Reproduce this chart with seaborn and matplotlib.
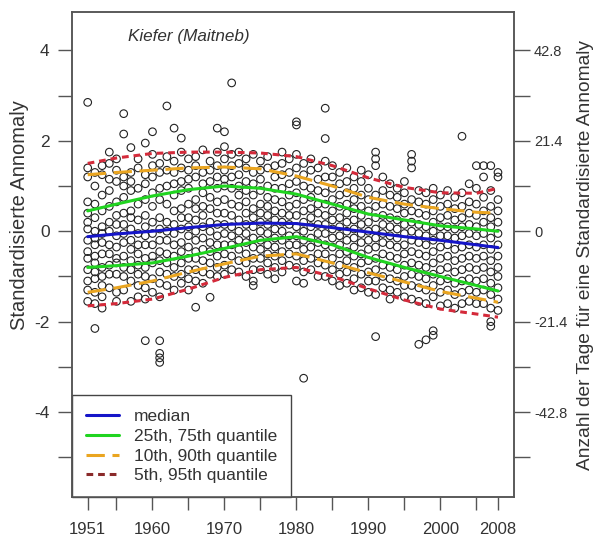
import numpy as np
import pandas as pd
import matplotlib
matplotlib.use("Agg")
import matplotlib.pyplot as plt
import seaborn as sns
from matplotlib.lines import Line2D

sns.set_style("white")
plt.rcParams['font.family'] = ['Liberation Sans', 'DejaVu Sans']

# ---------------- data ----------------
points = {
    1951: [2.85, 1.4, 1.2, 0.65, 0.4, 0.2, 0.05, -0.2, -0.45, -0.6, -0.85, -1.1, -1.3, -1.55],
    1952: [1.3, 1.0, 0.6, 0.3, 0.0, -0.15, -0.3, -0.55, -0.7, -0.9, -1.05, -1.35, -1.6, -2.15],
    1953: [1.45, 1.25, 0.8, 0.45, 0.1, -0.05, -0.25, -0.5, -0.8, -1.0, -1.2, -1.45, -1.7],
    1954: [1.75, 1.5, 1.15, 0.9, 0.55, 0.2, 0.0, -0.3, -0.5, -0.75, -0.95, -1.25],
    1955: [1.6, 1.35, 1.1, 0.65, 0.35, 0.15, -0.1, -0.35, -0.6, -0.7, -0.95, -1.35, -1.55],
    1956: [2.6, 2.15, 1.2, 1.0, 0.75, 0.4, 0.15, -0.05, -0.25, -0.55, -0.8, -1.0, -1.3],
    1957: [1.85, 1.3, 1.1, 0.9, 0.45, 0.3, 0.05, -0.2, -0.4, -0.65, -0.85, -1.1, -1.55],
    1958: [1.6, 1.4, 0.95, 0.6, 0.25, -0.05, -0.3, -0.5, -0.75, -0.95, -1.2, -1.45],
    1959: [1.95, 1.25, 1.05, 0.7, 0.35, 0.1, -0.1, -0.3, -0.6, -0.8, -1.0, -1.25, -1.5, -2.42],
    1960: [2.2, 1.7, 1.45, 1.2, 0.85, 0.55, 0.2, -0.05, -0.3, -0.55, -0.7, -1.05, -1.35],
    1961: [1.5, 1.3, 0.95, 0.7, 0.3, 0.05, -0.2, -0.45, -0.65, -0.9, -1.15, -1.45, -2.42, -2.7, -2.8, -2.9],
    1962: [2.77, 1.65, 1.35, 1.0, 0.6, 0.2, 0.0, -0.2, -0.5, -0.7, -0.95, -1.2],
    1963: [2.28, 1.55, 1.3, 1.05, 0.8, 0.45, 0.15, -0.05, -0.3, -0.55, -0.8, -1.0, -1.3],
    1964: [2.06, 1.75, 1.4, 1.1, 0.9, 0.5, 0.3, 0.05, -0.25, -0.45, -0.7, -0.95, -1.15],
    1965: [1.6, 1.35, 1.15, 0.95, 0.6, 0.3, 0.1, -0.1, -0.35, -0.6, -0.85, -1.05, -1.3],
    1966: [1.65, 1.45, 1.2, 0.7, 0.5, 0.25, 0.0, -0.2, -0.45, -0.6, -0.85, -1.1, -1.68],
    1967: [1.8, 1.3, 1.05, 0.85, 0.55, 0.35, 0.1, -0.15, -0.4, -0.65, -0.9, -1.15],
    1968: [1.55, 1.35, 1.1, 0.75, 0.5, 0.2, 0.0, -0.25, -0.45, -0.7, -0.95, -1.46],
    1969: [2.28, 1.75, 1.45, 1.2, 0.95, 0.65, 0.4, 0.15, -0.1, -0.3, -0.55, -0.8, -1.0],
    1970: [2.2, 1.87, 1.6, 1.35, 1.15, 1.0, 0.7, 0.4, 0.15, -0.05, -0.3, -0.5, -0.75, -0.95],
    1971: [3.28, 1.7, 1.45, 1.2, 0.95, 0.6, 0.35, 0.1, -0.1, -0.3, -0.55, -0.85],
    1972: [1.75, 1.5, 1.25, 1.0, 0.8, 0.55, 0.25, 0.0, -0.2, -0.4, -0.65, -0.9],
    1973: [1.6, 1.4, 1.1, 0.9, 0.65, 0.4, 0.15, -0.05, -0.25, -0.5, -0.7, -1.0],
    1974: [1.7, 1.3, 1.05, 0.8, 0.5, 0.3, 0.1, -0.15, -0.35, -0.6, -0.85, -1.1, -1.2],
    1975: [1.55, 1.35, 1.15, 0.9, 0.6, 0.4, 0.2, 0.0, -0.2, -0.4, -0.6, -0.85],
    1976: [1.65, 1.4, 1.0, 0.75, 0.55, 0.35, 0.15, -0.05, -0.3, -0.5, -0.7, -0.95],
    1977: [1.45, 1.2, 0.95, 0.7, 0.45, 0.25, 0.05, -0.15, -0.35, -0.55, -0.8, -1.05],
    1978: [1.75, 1.5, 1.25, 0.95, 0.65, 0.4, 0.2, 0.0, -0.2, -0.45, -0.65, -0.9],
    1979: [1.6, 1.3, 1.05, 0.8, 0.55, 0.35, 0.15, -0.1, -0.3, -0.5, -0.75],
    1980: [2.42, 2.35, 1.7, 1.4, 1.1, 0.85, 0.6, 0.35, 0.1, -0.1, -0.3, -0.55, -0.8, -1.1],
    1981: [1.5, 1.25, 1.0, 0.7, 0.45, 0.2, 0.0, -0.2, -0.4, -0.65, -0.9, -1.15, -3.25],
    1982: [1.6, 1.35, 0.95, 0.75, 0.5, 0.3, 0.1, -0.15, -0.35, -0.6, -0.85],
    1983: [1.4, 1.15, 0.9, 0.6, 0.4, 0.15, -0.05, -0.25, -0.5, -0.7, -1.0],
    1984: [2.72, 2.05, 1.55, 1.2, 0.85, 0.6, 0.35, 0.15, -0.05, -0.3, -0.5, -0.75, -1.0],
    1985: [1.45, 1.2, 0.95, 0.7, 0.45, 0.25, 0.05, -0.15, -0.35, -0.6, -0.85, -1.1],
    1986: [1.3, 1.05, 0.8, 0.55, 0.3, 0.1, -0.1, -0.3, -0.5, -0.75, -0.95, -1.2],
    1987: [1.4, 1.1, 0.85, 0.6, 0.4, 0.2, 0.0, -0.2, -0.45, -0.65, -0.9, -1.15],
    1988: [1.2, 0.95, 0.7, 0.5, 0.25, 0.05, -0.15, -0.35, -0.55, -0.8, -1.05, -1.3],
    1989: [1.35, 1.1, 0.8, 0.55, 0.35, 0.15, -0.05, -0.25, -0.5, -0.7, -0.95, -1.25],
    1990: [1.25, 0.95, 0.7, 0.45, 0.2, 0.0, -0.2, -0.4, -0.65, -0.9, -1.1, -1.35],
    1991: [1.75, 1.6, 1.45, 0.8, 0.55, 0.3, 0.05, -0.15, -0.35, -0.6, -0.85, -1.1, -1.4, -2.33],
    1992: [1.2, 0.9, 0.6, 0.35, 0.15, -0.05, -0.25, -0.5, -0.75, -1.0, -1.25],
    1993: [1.05, 0.8, 0.55, 0.3, 0.1, -0.1, -0.3, -0.55, -0.8, -1.05, -1.3, -1.5],
    1994: [0.95, 0.75, 0.5, 0.25, 0.05, -0.15, -0.35, -0.6, -0.85, -1.1, -1.35],
    1995: [1.1, 0.85, 0.6, 0.4, 0.15, -0.05, -0.3, -0.5, -0.75, -1.0, -1.2, -1.45],
    1996: [1.7, 1.55, 1.4, 0.7, 0.45, 0.2, 0.0, -0.2, -0.45, -0.7, -0.95, -1.2, -1.5],
    1997: [0.9, 0.65, 0.4, 0.15, -0.05, -0.25, -0.5, -0.75, -1.0, -1.25, -1.55, -2.5],
    1998: [0.85, 0.6, 0.35, 0.1, -0.1, -0.3, -0.55, -0.8, -1.05, -1.3, -1.6, -2.4],
    1999: [0.95, 0.7, 0.45, 0.2, 0.0, -0.2, -0.45, -0.7, -0.95, -1.2, -1.45, -2.3, -2.2],
    2000: [0.8, 0.55, 0.3, 0.1, -0.1, -0.35, -0.6, -0.85, -1.1, -1.35, -1.65],
    2001: [0.9, 0.6, 0.35, 0.1, -0.1, -0.3, -0.55, -0.8, -1.05, -1.3, -1.6],
    2002: [0.75, 0.5, 0.25, 0.05, -0.15, -0.4, -0.65, -0.9, -1.15, -1.4, -1.7],
    2003: [2.1, 0.85, 0.55, 0.3, 0.1, -0.1, -0.35, -0.6, -0.85, -1.1, -1.35, -1.6],
    2004: [1.05, 0.65, 0.4, 0.15, -0.05, -0.3, -0.55, -0.8, -1.05, -1.3, -1.55],
    2005: [1.45, 0.95, 0.6, 0.35, 0.1, -0.1, -0.35, -0.6, -0.85, -1.1, -1.35, -1.6],
    2006: [1.45, 1.2, 0.75, 0.45, 0.2, -0.05, -0.3, -0.55, -0.8, -1.05, -1.3, -1.6],
    2007: [1.45, 0.9, 0.55, 0.3, 0.1, -0.15, -0.4, -0.65, -0.9, -1.15, -1.4, -1.7, -2.0, -2.1],
    2008: [1.3, 1.2, 0.7, 0.45, 0.2, -0.05, -0.3, -0.55, -0.8, -1.0, -1.25, -1.5, -1.75],
}

curve_years = [1951, 1955, 1960, 1965, 1970, 1975, 1980, 1985, 1990, 1995, 2000, 2005, 2008]
q50 = [-0.12, -0.06, 0.0, 0.08, 0.15, 0.18, 0.17, 0.08, -0.02, -0.12, -0.2, -0.3, -0.36]
q75 = [0.45, 0.6, 0.78, 0.92, 1.0, 0.95, 0.82, 0.6, 0.38, 0.25, 0.12, 0.05, 0.0]
q25 = [-0.8, -0.76, -0.7, -0.55, -0.38, -0.2, -0.12, -0.3, -0.58, -0.8, -1.0, -1.2, -1.32]
q90 = [1.25, 1.3, 1.35, 1.4, 1.42, 1.38, 1.22, 1.0, 0.75, 0.6, 0.5, 0.42, 0.4]
q10 = [-1.35, -1.25, -1.1, -0.9, -0.72, -0.55, -0.5, -0.7, -0.92, -1.12, -1.33, -1.48, -1.57]
q95 = [1.5, 1.62, 1.72, 1.75, 1.75, 1.73, 1.65, 1.45, 1.18, 0.97, 0.85, 0.84, 0.95]
q05 = [-1.65, -1.6, -1.5, -1.28, -1.02, -0.85, -0.8, -1.0, -1.27, -1.52, -1.72, -1.83, -1.9]

x_major = [1951, 1960, 1970, 1980, 1990, 2000, 2008]
x_minor = [1955, 1965, 1975, 1985, 1995, 2005]
days_per_unit = 10.7

# ---------------- figure ----------------
df = pd.DataFrame([(y, v) for y, vals in points.items() for v in vals], columns=["year", "value"])

fig = plt.figure(figsize=(5.94, 5.41), dpi=100)
ax = fig.add_axes([0.121, 0.081, 0.744, 0.897])

sns.scatterplot(data=df, x="year", y="value", ax=ax, marker="o", s=30,
                facecolor="none", edgecolor="#222222", linewidth=0.8, zorder=2)

styles = [
    (q05, "#d42a3a", (0, (2.2, 1.6))),
    (q95, "#d42a3a", (0, (2.2, 1.6))),
    (q10, "#eaa520", (0, (6, 2.5))),
    (q90, "#eaa520", (0, (6, 2.5))),
    (q25, "#20d420", "-"),
    (q75, "#20d420", "-"),
    (q50, "#1515c8", "-"),
]
for vals, col, ls in styles:
    sns.lineplot(x=curve_years, y=vals, ax=ax, color=col, linewidth=2.2,
                 linestyle=ls, zorder=3)

ax.set_xlim(1948.8, 2010.2)
ax.set_ylim(-5.88, 4.85)

text_col = "#333333"
ax.set_xticks(x_major + x_minor)
ax.set_xticklabels([str(v) for v in x_major] + [""] * len(x_minor))
ax.set_yticks([4, 2, 0, -2, -4, 3, 1, -1, -3, -5])
ax.set_yticklabels(["4", "2", "0", "-2", "-4", "", "", "", "", ""])
ax.tick_params(axis="x", bottom=True, direction="out", length=9, width=1.0,
               color="#555555", labelsize=12, labelcolor=text_col, pad=9)
ax.tick_params(axis="y", left=True, direction="out", length=10, width=1.0,
               color="#555555", labelsize=12.5, labelcolor=text_col, pad=6)
for sp in ax.spines.values():
    sp.set_color("#555555")
    sp.set_linewidth(1.1)
ax.set_xlabel("")
ax.set_ylabel("")

ax2 = ax.twinx()
lo, hi = ax.get_ylim()
ax2.set_ylim(lo * days_per_unit, hi * days_per_unit)
r_major = [42.8, 21.4, 0, -21.4, -42.8]
r_minor = [32.1, 10.7, -10.7, -32.1, -53.5]
ax2.set_yticks(r_major + r_minor)
ax2.set_yticklabels(["42.8", "21.4", "0", "-21.4", "-42.8"] + [""] * 5)
ax2.tick_params(axis="y", right=True, direction="out", length=11.5, width=1.0,
                color="#555555", labelsize=10.5, labelcolor=text_col, pad=3)
for sp in ax2.spines.values():
    sp.set_color("#555555")
    sp.set_linewidth(1.1)
ax2.set_ylabel("")

fig.text(20 / 594, 1 - 215 / 541, "Standardisierte Annomaly", rotation=90,
         ha="center", va="center", fontsize=14.5, color=text_col)
fig.text(585 / 594, 1 - 255 / 541, "Anzahl der Tage für eine Standardisierte Annomaly",
         rotation=90, ha="center", va="center", fontsize=13.8, color=text_col)

ax.text(0.127, 0.965, "Kiefer (Maitneb)", transform=ax.transAxes, fontsize=12.3,
        style="italic", color=text_col, va="top", ha="left")

handles = [
    Line2D([], [], color="#1515c8", lw=2.2, ls="-"),
    Line2D([], [], color="#20d420", lw=2.2, ls="-"),
    Line2D([], [], color="#eaa520", lw=2.2, ls=(0, (6, 2.5))),
    Line2D([], [], color="#8a2a2a", lw=2.2, ls=(0, (2.2, 1.6))),
]
labels = ["median", "25th, 75th quantile", "10th, 90th quantile", "5th, 95th quantile"]
leg = ax.legend(handles, labels, loc="lower left", bbox_to_anchor=(0, 0),
                frameon=True, fancybox=False, fontsize=12.5, borderaxespad=0,
                handlelength=1.9, handletextpad=0.85, labelspacing=0.26,
                borderpad=0.8, labelcolor=text_col)
leg.get_frame().set_edgecolor("#444444")
leg.get_frame().set_linewidth(1.0)
leg.get_frame().set_facecolor("white")
leg.get_frame().set_alpha(1)

fig.savefig("out.png", dpi=100)
